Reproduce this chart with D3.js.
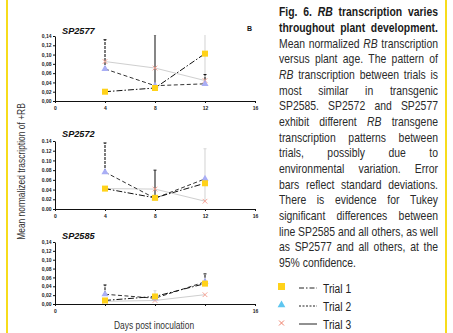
<!DOCTYPE html>
<html>
<head>
<meta charset="utf-8">
<script src="https://cdn.jsdelivr.net/npm/d3@7"></script>
<style>
  body { margin: 0; background: #fff; }
  svg { display: block; }
</style>
</head>
<body>
<div id="chart"></div>
<script>
// ---- data ----
const days = [4, 8, 12];
const xTicks = [0, 4, 8, 12, 16];
const yTicks = [0, 0.02, 0.04, 0.06, 0.08, 0.10, 0.12, 0.14];
const lines = ['SP2577', 'SP2572', 'SP2585'];
const trials = ['Trial 1', 'Trial 2', 'Trial 3'];

// mean normalized transcription, one array per trial and line
const sp2577Trial1 = [0.020, 0.028, 0.102];
const sp2577Trial2 = [0.069, 0.033, 0.037];
const sp2577Trial3 = [0.085, 0.071, 0.044];
const sp2572Trial1 = [0.042, 0.023, 0.053];
const sp2572Trial2 = [0.076, 0.022, 0.062];
const sp2572Trial3 = [0.042, 0.041, 0.016];
const sp2585Trial1 = [0.008, 0.017, 0.046];
const sp2585Trial2 = [0.022, 0.013, 0.050];
const sp2585Trial3 = [0.006, 0.008, 0.021];

// standard deviations (only the upper arm is drawn)
const sp2577Sd1 = [0, 0.115, 0];
const sp2577Sd2 = [0.063, 0, 0.020];
const sp2577Sd3 = [0, 0, 0.100];
const sp2572Sd1 = [0, 0.057, 0];
const sp2572Sd2 = [0.060, 0, 0];
const sp2572Sd3 = [0, 0, 0.108];
const sp2585Sd1 = [0, 0, 0];
const sp2585Sd2 = [0.021, 0, 0.018];
const sp2585Sd3 = [0, 0.022, 0];

const means = [
  [sp2577Trial1, sp2577Trial2, sp2577Trial3],
  [sp2572Trial1, sp2572Trial2, sp2572Trial3],
  [sp2585Trial1, sp2585Trial2, sp2585Trial3]
];
const sds = [
  [sp2577Sd1, sp2577Sd2, sp2577Sd3],
  [sp2572Sd1, sp2572Sd2, sp2572Sd3],
  [sp2585Sd1, sp2585Sd2, sp2585Sd3]
];

// caption text, "*" marks an italic word
const caption = [
  'Fig. 6. *RB transcription varies',
  'throughout plant development.',
  'Mean normalized *RB transcription',
  'versus plant age. The pattern of',
  '*RB transcription between trials is',
  'most similar in transgenic',
  'SP2585. SP2572 and SP2577',
  'exhibit different *RB transgene',
  'transcription patterns between',
  'trials, possibly due to',
  'environmental variation. Error',
  'bars reflect standard deviations.',
  'There is evidence for Tukey',
  'significant differences between',
  'line SP2585 and all others, as well',
  'as SP2577 and all others, at the',
  '95% confidence.'
];

// ---- layout ----
const width = 453, height = 333;
const font = "'Liberation Sans', Arial, sans-serif";
const squeeze = 0.82; // stands in for Arial Narrow
const panelBox = [
  { top: 36, bottom: 101, sep: ',', xLabels: true, titleY: 34 },
  { top: 141, bottom: 209, sep: '.', xLabels: true, titleY: 137 },
  { top: 242, bottom: 304, sep: ',', xLabels: false, titleY: 239 }
];
const trialStyle = [
  { line: '#111', dash: '6,2,1.5,2', width: 1, err: '#222', errDash: null },
  { line: '#333', dash: '4,2.5', width: 1, err: '#111', errDash: '3,1' },
  { line: '#cfcfcf', dash: null, width: 1, err: '#d6d6d6', errDash: null }
];

const svg = d3.select('#chart').append('svg')
  .attr('width', width)
  .attr('height', height)
  .attr('viewBox', [0, 0, width, height])
  .style('font-family', font);

svg.append('rect').attr('width', width).attr('height', height).attr('fill', '#fff');

// yellow page rules
svg.append('rect').attr('x', 6).attr('y', 0).attr('width', 2).attr('height', height).attr('fill', '#f7dc1b');
svg.append('rect').attr('x', 445).attr('y', 0).attr('width', 2).attr('height', height).attr('fill', '#f7dc1b');

const x = d3.scaleLinear().domain([0, 16]).range([55, 255]);

lines.forEach((name, i) => {
  const box = panelBox[i];
  const y = d3.scaleLinear().domain([0, 0.14]).range([box.bottom, box.top]);
  const g = svg.append('g');

  g.append('clipPath').attr('id', 'clip' + i)
    .append('rect').attr('x', x(0)).attr('y', box.top - 1)
    .attr('width', x(16) - x(0)).attr('height', box.bottom - box.top + 4);

  // title
  g.append('text')
    .attr('x', 62).attr('y', box.titleY)
    .attr('font-size', 9.2).attr('font-weight', 'bold').attr('font-style', 'italic')
    .attr('fill', '#111')
    .text(name);

  // y axis
  const yAxis = d3.axisLeft(y).tickValues(yTicks).tickSize(2).tickSizeOuter(0).tickPadding(1.5)
    .tickFormat(v => d3.format('.2f')(v).replace('.', box.sep));
  const ya = g.append('g').attr('transform', `translate(${x(0)},0)`).call(yAxis);
  ya.selectAll('text').attr('font-size', 5).attr('font-weight', 'bold').attr('font-family', font).attr('fill', '#222');
  ya.selectAll('line, path').attr('stroke', '#111');

  // x axis
  const xAxis = d3.axisBottom(x).tickValues(xTicks).tickSize(2).tickSizeOuter(0).tickPadding(3)
    .tickFormat(v => (box.xLabels || v === 0 || v === 16) ? v : '');
  const xa = g.append('g').attr('transform', `translate(0,${box.bottom})`).call(xAxis);
  xa.selectAll('text').attr('font-size', 5).attr('font-weight', 'bold').attr('font-family', font).attr('fill', '#222');
  xa.selectAll('line, path').attr('stroke', '#111');

  const plot = g.append('g').attr('clip-path', `url(#clip${i})`);
  const line = d3.line().x((d, k) => x(days[k])).y(d => y(d));

  // lines, pale trial first
  [2, 1, 0].forEach(t => {
    const st = trialStyle[t];
    plot.append('path')
      .datum(means[i][t])
      .attr('d', line)
      .attr('fill', 'none')
      .attr('stroke', st.line)
      .attr('stroke-width', st.width)
      .attr('stroke-dasharray', st.dash);
  });

  // error bars (upper arm)
  [2, 1, 0].forEach(t => {
    const st = trialStyle[t];
    means[i][t].forEach((m, k) => {
      const sd = sds[i][t][k];
      if (!sd) return;
      const cx = x(days[k]);
      plot.append('line')
        .attr('x1', cx).attr('x2', cx)
        .attr('y1', y(m)).attr('y2', y(m + sd))
        .attr('stroke', st.err).attr('stroke-width', 1.1)
        .attr('stroke-dasharray', st.errDash);
      plot.append('line')
        .attr('x1', cx - 1.5).attr('x2', cx + 1.5)
        .attr('y1', y(m + sd)).attr('y2', y(m + sd))
        .attr('stroke', st.err).attr('stroke-width', 1);
    });
  });

  // markers
  means[i][2].forEach((m, k) => {
    plot.append('path')
      .attr('d', d3.symbol(d3.symbolX, 16)())
      .attr('transform', `translate(${x(days[k])},${y(m)})`)
      .attr('fill', 'none').attr('stroke', '#f49a8a').attr('stroke-width', 0.9);
  });
  means[i][1].forEach((m, k) => {
    plot.append('path')
      .attr('d', d3.symbol(d3.symbolTriangle, 22)())
      .attr('transform', `translate(${x(days[k])},${y(m)})`)
      .attr('fill', '#a9aef5');
  });
  means[i][0].forEach((m, k) => {
    plot.append('rect')
      .attr('x', x(days[k]) - 3).attr('y', y(m) - 3)
      .attr('width', 6).attr('height', 6)
      .attr('fill', '#ffd21a');
  });
});

// panel letter
svg.append('text').attr('x', 247).attr('y', 31)
  .attr('font-size', 7).attr('font-weight', 'bold').attr('fill', '#111').text('B');

// axis titles
svg.append('text')
  .attr('transform', `translate(25,171.5) rotate(-90) scale(${squeeze},1)`)
  .attr('text-anchor', 'middle')
  .attr('font-size', 10.3).attr('fill', '#333')
  .text('Mean normalized trascription of +RB');

svg.append('text')
  .attr('transform', `translate(154,329) scale(${squeeze},1)`)
  .attr('text-anchor', 'middle')
  .attr('font-size', 10.3).attr('fill', '#333')
  .text('Days post inoculation');

// caption, justified between 279 and 438
const capLeft = 279, capRight = 438, capTop = 16.5, capStep = 15.65;
const capWidth = (capRight - capLeft) / squeeze;
const cap = svg.append('g')
  .attr('transform', `translate(${capLeft},0) scale(${squeeze},1)`)
  .attr('font-size', 12.7).attr('fill', '#262626');
caption.forEach((row, r) => {
  const bold = r < 2;
  const words = row.split(' ');
  const nodes = words.map(w => {
    const italic = w.startsWith('*');
    return cap.append('text')
      .attr('y', capTop + r * capStep)
      .attr('font-weight', bold ? 'bold' : 'normal')
      .attr('font-style', italic ? 'italic' : 'normal')
      .attr('fill', bold ? '#1a1a1a' : '#2a2a2a')
      .text(italic ? w.slice(1) : w);
  });
  const widths = nodes.map(n => n.node().getComputedTextLength());
  const total = d3.sum(widths);
  const last = r === caption.length - 1;
  const space = 3.5;
  const gap = last ? space : Math.max(space * 0.6, (capWidth - total) / (words.length - 1));
  let cx = 0;
  nodes.forEach((n, k) => {
    n.attr('x', cx);
    cx += widths[k] + gap;
  });
});

// legend
const lg = svg.append('g').attr('fill', '#222');
const legendY = [288, 306, 324];
lg.append('rect').attr('x', 278).attr('y', legendY[0] - 5).attr('width', 7).attr('height', 7).attr('fill', '#ffd21a');
lg.append('path').attr('d', d3.symbol(d3.symbolTriangle, 26)())
  .attr('transform', `translate(281.5,${legendY[1] - 1})`).attr('fill', '#5ec6f0');
lg.append('path').attr('d', d3.symbol(d3.symbolX, 18)())
  .attr('transform', `translate(281.5,${legendY[2] - 1})`)
  .attr('fill', 'none').attr('stroke', '#f0806a').attr('stroke-width', 1);
const legendDash = ['5,2,1.5,2', '2,1.5', null];
trials.forEach((t, k) => {
  lg.append('line')
    .attr('x1', 299).attr('x2', 317)
    .attr('y1', legendY[k]).attr('y2', legendY[k])
    .attr('stroke', '#222').attr('stroke-width', 1)
    .attr('stroke-dasharray', legendDash[k]);
  lg.append('text')
    .attr('transform', `translate(323,${legendY[k] + 4.5}) scale(${squeeze},1)`)
    .attr('font-size', 12.5)
    .text(t);
});
</script>
</body>
</html>
